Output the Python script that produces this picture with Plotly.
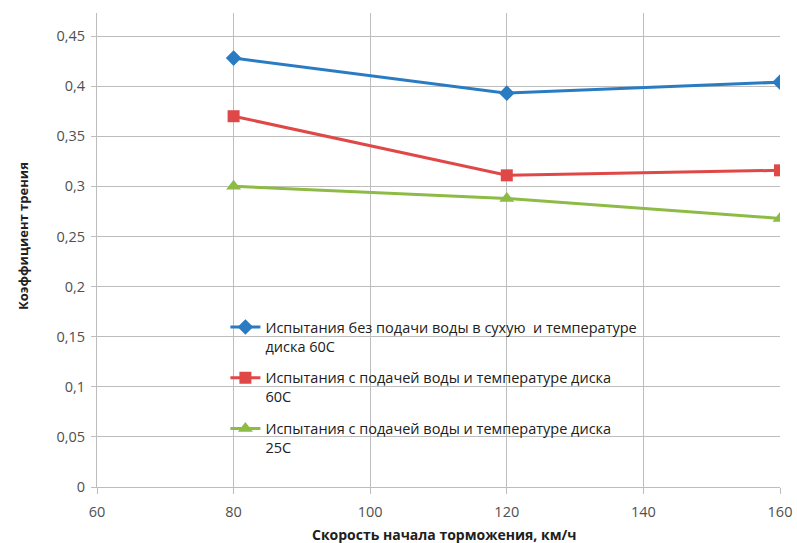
import plotly.graph_objects as go

speeds = [80, 120, 160]
dry_60 = [0.428, 0.393, 0.404]
wet_60 = [0.370, 0.311, 0.316]
wet_25 = [0.300, 0.288, 0.268]

names = [
    "Испытания без подачи воды в сухую  и температуре<br>диска 60С",
    "Испытания с подачей воды и температуре диска<br>60С",
    "Испытания с подачей воды и температуре диска<br>25С",
]
x_ticks = [60, 80, 100, 120, 140, 160]
y_ticks = [0, 0.05, 0.1, 0.15, 0.2, 0.25, 0.3, 0.35, 0.4, 0.45]
y_labels = ["0", "0,05", "0,1", "0,15", "0,2", "0,25", "0,3", "0,35", "0,4", "0,45"]
x_title = "Скорость начала торможения, км/ч"
y_title = "Коэффициент трения"

series = [
    (dry_60, "#2a7cc2", "diamond", 12),
    (wet_60, "#e04848", "square", 12),
    (wet_25, "#8dbb45", "triangle-up", 13),
]

fig = go.Figure()
for i, (vals, color, sym, sz) in enumerate(series):
    fig.add_trace(go.Scatter(
        x=speeds, y=vals, name=names[i], mode="lines+markers",
        legendgroup=str(i),
        line=dict(color=color, width=3),
        marker=dict(symbol=sym, size=sz, color=color),
    ))

font_family = "Open Sans, Liberation Sans, sans-serif"
fig.update_layout(
    width=797, height=543,
    margin=dict(l=97, r=17, t=13, b=56),
    paper_bgcolor="white", plot_bgcolor="white",
    font=dict(family=font_family, size=14.5, color="#505050"),
    showlegend=True,
    legend=dict(
        x=0.188, y=0.371, xanchor="left", yanchor="top",
        bgcolor="rgba(0,0,0,0)", valign="top",
        tracegroupgap=10,
        font=dict(size=14.5, color="#202020"),
    ),
    xaxis=dict(
        range=[60, 160], tickvals=x_ticks, ticktext=[str(v) for v in x_ticks],
        showgrid=True, gridcolor="#bdbdbd", gridwidth=1,
        showline=True, linecolor="#bdbdbd", ticks="outside", tickcolor="#bdbdbd",
        ticklen=6, ticklabelstandoff=6, zeroline=False, automargin=False,
    ),
    yaxis=dict(
        range=[0, 0.473], tickvals=y_ticks, ticktext=y_labels,
        showgrid=True, gridcolor="#bdbdbd", gridwidth=1,
        showline=True, linecolor="#bdbdbd", ticks="outside", tickcolor="#bdbdbd",
        ticklen=5, ticklabelstandoff=3, zeroline=False, automargin=False,
    ),
    annotations=[
        dict(text="<b>" + x_title + "</b>", xref="paper", yref="paper",
             x=0.508, y=-0.101, xanchor="center", yanchor="middle",
             showarrow=False, font=dict(size=14, color="#202020")),
        dict(text="<b>" + y_title + "</b>", xref="paper", yref="paper",
             x=-0.108, y=0.53, xanchor="center", yanchor="middle", textangle=-90,
             showarrow=False, font=dict(size=13, color="#202020")),
    ],
)

fig.write_html("out.html", config={"displayModeBar": False},
               post_script="document.body.style.margin='0';")
